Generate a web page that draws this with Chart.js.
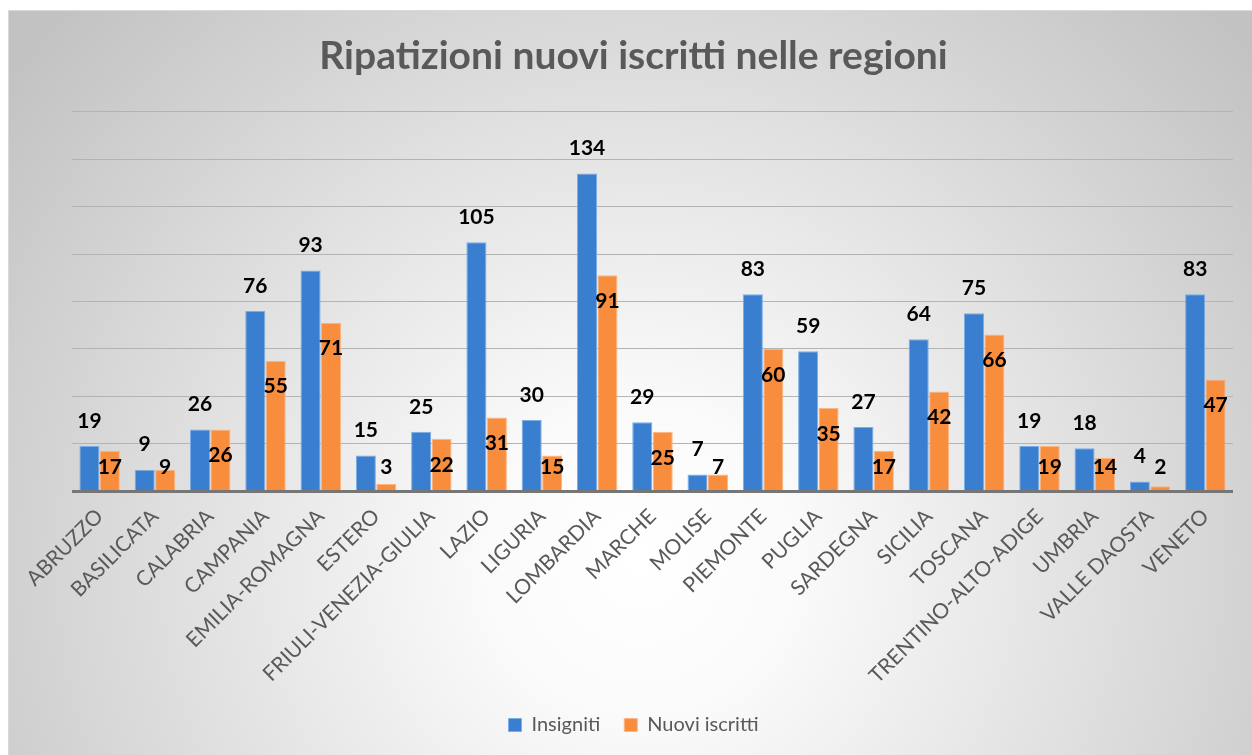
<!DOCTYPE html>
<html>
<head>
<meta charset="utf-8">
<script src="https://cdn.jsdelivr.net/npm/chart.js@4.4.0/dist/chart.umd.min.js"></script>
<style>
html,body{margin:0;padding:0;background:#ffffff;}
#wrap{width:1252px;height:755px;position:relative;}
</style>
</head>
<body>
<div id="wrap"><canvas id="c" width="1252" height="755"></canvas></div>
<script>
const categories = ["ABRUZZO","BASILICATA","CALABRIA","CAMPANIA","EMILIA-ROMAGNA","ESTERO","FRIULI-VENEZIA-GIULIA","LAZIO","LIGURIA","LOMBARDIA","MARCHE","MOLISE","PIEMONTE","PUGLIA","SARDEGNA","SICILIA","TOSCANA","TRENTINO-ALTO-ADIGE","UMBRIA","VALLE DAOSTA","VENETO"];
const insigniti = [19,9,26,76,93,15,25,105,30,134,29,7,83,59,27,64,75,19,18,4,83];
const nuoviIscritti = [17,9,26,55,71,3,22,31,15,91,25,7,60,35,17,42,66,19,14,2,47];
const seriesNames = ["Insigniti","Nuovi iscritti"];
const titleText = "Ripatizioni nuovi iscritti nelle regioni";
const yMax = 160;
const yStep = 20;

const FONT = "Lato";

const bgPlugin = {
  id: 'bg',
  beforeDraw(chart) {
    const ctx = chart.ctx;
    ctx.save();
    ctx.fillStyle = '#ffffff';
    ctx.fillRect(0, 0, chart.width, chart.height);
    const x0 = 8, y0 = 10, x1 = chart.width, y1 = chart.height;
    const g = ctx.createRadialGradient(640, 560, 0, 640, 560, 800);
    g.addColorStop(0, '#ffffff');
    g.addColorStop(0.2, '#fafafa');
    g.addColorStop(1, '#c2c2c2');
    ctx.fillStyle = g;
    ctx.fillRect(x0, y0, x1 - x0, y1 - y0);
    ctx.strokeStyle = '#d9d9d9';
    ctx.lineWidth = 1;
    ctx.strokeRect(x0 + 0.5, y0 + 0.5, x1 - x0, y1 - y0);
    ctx.restore();
  }
};

const baselinePlugin = {
  id: 'baseline',
  afterDatasetsDraw(chart) {
    const ctx = chart.ctx;
    const y = chart.scales.y.getPixelForValue(0);
    ctx.save();
    ctx.strokeStyle = '#767676';
    ctx.lineWidth = 3;
    ctx.beginPath();
    ctx.moveTo(chart.chartArea.left, y + 0.5);
    ctx.lineTo(chart.chartArea.right, y + 0.5);
    ctx.stroke();
    ctx.restore();
  }
};

const labelPlugin = {
  id: 'labels',
  afterDatasetsDraw(chart) {
    const ctx = chart.ctx;
    ctx.save();
    ctx.font = 'bold 21px ' + FONT;
    ctx.fillStyle = '#000000';
    ctx.textAlign = 'center';
    ctx.textBaseline = 'middle';
    chart.data.datasets.forEach((ds, di) => {
      const meta = chart.getDatasetMeta(di);
      meta.data.forEach((bar, i) => {
        const v = ds.data[i];
        let y;
        if (di === 0) {
          y = bar.y - 25;
        } else {
          y = Math.min(bar.y + 26, bar.base - 23);
        }
        ctx.fillText(String(v), bar.x, y);
      });
    });
    ctx.restore();
  }
};

new Chart(document.getElementById('c'), {
  type: 'bar',
  data: {
    labels: categories,
    datasets: [
      {
        label: seriesNames[0],
        data: insigniti,
        backgroundColor: '#3a7fcf',
        borderColor: '#79aee6',
        borderWidth: 1,
        categoryPercentage: 0.74,
        barPercentage: 0.98
      },
      {
        label: seriesNames[1],
        data: nuoviIscritti,
        backgroundColor: '#f98d3e',
        borderColor: '#fcb684',
        borderWidth: 1,
        categoryPercentage: 0.74,
        barPercentage: 0.98
      }
    ]
  },
  options: {
    responsive: false,
    animation: false,
    devicePixelRatio: 1,
    layout: { padding: { left: 20, right: 5, top: 10, bottom: 10 } },
    plugins: {
      title: {
        display: true,
        text: titleText,
        color: '#595959',
        font: { family: FONT, size: 39, weight: 'bold' },
        padding: { top: 23, bottom: 32 }
      },
      legend: {
        display: true,
        position: 'bottom',
        labels: {
          color: '#595959',
          font: { family: FONT, size: 20 },
          boxWidth: 13,
          boxHeight: 13,
          padding: 24
        }
      },
      tooltip: { enabled: false }
    },
    scales: {
      x: {
        grid: { display: false, drawTicks: false },
        border: { display: false },
        ticks: {
          color: '#595959',
          font: { family: FONT, size: 21 },
          minRotation: 45,
          maxRotation: 45,
          autoSkip: false,
          padding: 13
        },
        afterFit(scale) { scale.height = 200; }
      },
      y: {
        position: 'left',
        min: 0,
        max: yMax,
        ticks: { display: false, stepSize: yStep },
        grid: { color: '#b3b3b3', lineWidth: 1, drawTicks: false },
        border: { display: false },
        afterFit(scale) { scale.width = 52; }
      },
      yRight: {
        position: 'right',
        display: true,
        min: 0,
        max: yMax,
        ticks: { display: false },
        grid: { display: false, drawTicks: false },
        border: { display: false },
        afterFit(scale) { scale.width = 14; }
      }
    }
  },
  plugins: [bgPlugin, baselinePlugin, labelPlugin]
});
</script>
</body>
</html>
